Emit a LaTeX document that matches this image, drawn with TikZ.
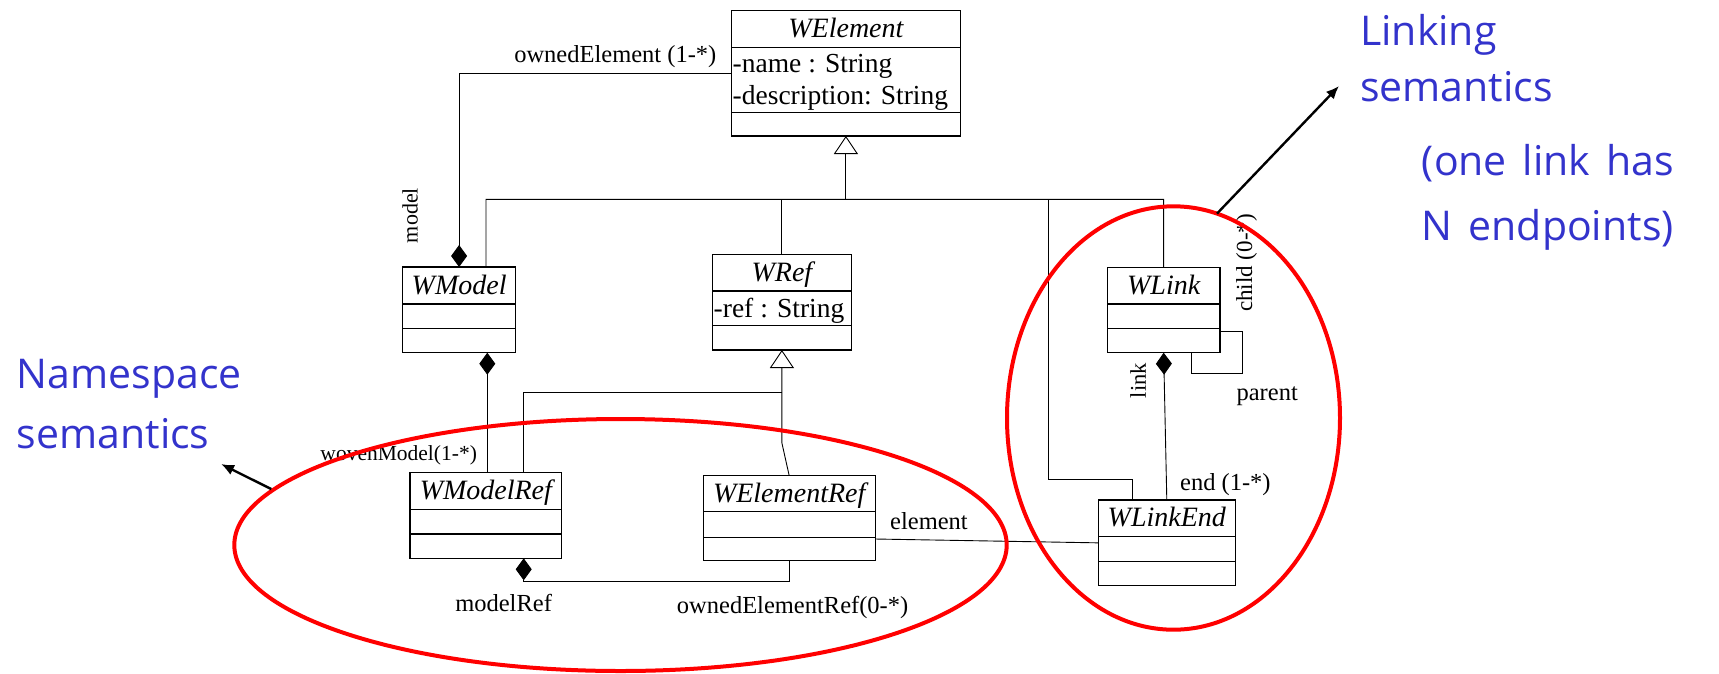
\documentclass[tikz,border=0pt]{standalone}
\usepackage{fontspec}
\setmainfont{Liberation Serif}
\newfontfamily\handfont[WordSpace=1.5]{Open Sans}
\usetikzlibrary{arrows.meta,shapes.geometric}
\definecolor{noteblue}{RGB}{51,51,204}

\tikzset{
  classbox/.style={draw, rectangle, line width=1.2pt, inner sep=0pt, outer sep=0pt},
  boxline/.style={line width=1.2pt},
  classtitle/.style={inner sep=0pt, font=\fontsize{28}{30}\selectfont\itshape},
  attr/.style={inner sep=0pt, anchor=base west, font=\fontsize{27.5}{30}\selectfont},
  role/.style={inner sep=0pt, anchor=base, font=\fontsize{24.5}{26}\selectfont},
  rolerot/.style={inner sep=0pt, anchor=center, rotate=90, font=\fontsize{23}{25}\selectfont},
  conn/.style={line width=0.9pt},
  compo/.style={conn, {Diamond[length=22pt,width=16pt]}-},
  generalize/.style={conn, -{Triangle[open,length=18pt,width=24pt]}},
  ring/.style={draw=red, line width=4pt, ellipse, inner sep=0pt, outer sep=0pt},
  note/.style={text=noteblue, inner sep=0pt, anchor=base west, font=\handfont\fontsize{41}{44}\selectfont},
  pointer/.style={line width=2.4pt, -{Latex[length=13pt,width=11pt]}},
}

% #1 name, #2 left, #3 top, #4 right, #5 bottom, #6 first divider, #7 second divider, #8 class name
\newcommand\umlclass[8]{%
  \node[classbox, anchor=north west, minimum width={#4-#2}, minimum height={#5-#3}] (#1) at (#2,#3) {};
  \draw[boxline] (#2,#6) -- (#4,#6) (#2,#7) -- (#4,#7);
  \node[classtitle, anchor=base] (#1-name) at ({(#2+#4)/2},{(#3+#6)/2+8.5}) {#8};
}

\begin{document}
\begin{tikzpicture}[x=1pt,y=-1pt]
\useasboundingbox (0,0) rectangle (1719,673);
\fill[white] (0,0) rectangle (1719,673);

% classes
\umlclass{WElement}{731.3}{10.7}{960.5}{136}{47.3}{112.7}{WElement}
\node[attr] (WElement-a1) at (732.5,72) {-name : String};
\node[attr] (WElement-a2) at (732.5,104) {-description: String};

\umlclass{WModel}{402.7}{267}{515.5}{352.7}{304}{328.5}{WModel}
\umlclass{WRef}{712.3}{254.5}{851.5}{350}{291}{325.8}{WRef}
\node[attr] (WRef-a1) at (713.5,317) {-ref : String};
\umlclass{WLink}{1107.3}{267.3}{1220}{352.7}{304}{328.3}{WLink}
\umlclass{WModelRef}{410}{472.7}{561.7}{558.3}{509.3}{534}{WModelRef}
\umlclass{WElementRef}{703.3}{475.7}{875.1}{560.7}{511.7}{537.3}{WElementRef}
\umlclass{WLinkEnd}{1098.3}{500}{1235.3}{585.7}{536.7}{561.7}{WLinkEnd}

% routing points
\coordinate (busL) at (486,199.3);
\coordinate (busR) at (1163.65,199.3);
\coordinate (busE) at (845.9,199.3);
\coordinate (busK) at (1048.3,199.3);
\coordinate (kneeK) at (1048.3,479.3);
\coordinate (refbus) at (781.9,392.7);
\coordinate (refbend) at (781.9,443);
\coordinate (ownknee) at (789.2,581.7);
\coordinate (wmdrop) at ([xshift=28.2pt]WModel.south);

% generalizations
\draw[conn] ([xshift=26.9pt]WModel.north) -- (busL) -- (busR) -- (WLink.north);
\draw[generalize] (busE) -- (WElement.south);
\draw[conn] (WRef.north) -- (WRef.north |- busL);
\draw[conn] (busK) -- (kneeK) -| ([xshift=-34.1pt]WLinkEnd.north);
\draw[conn] ([xshift=37.45pt]WModelRef.north) |- (refbus);
\draw[generalize] (WElementRef.north) -- (refbend) -- (refbus) -- (WRef.south);

% compositions and associations
\draw[compo] (WModel.north) |- (WElement.west);
\draw[compo] (wmdrop) -- (wmdrop |- WModelRef.north);
\draw[compo] ([xshift=37.85pt]WModelRef.south) |- (ownknee) -- (WElementRef.south);
\draw[compo] (WLink.south) -- (WLinkEnd.north);
\draw[conn] ([yshift=-20.8pt]WElementRef.east) -- (WLinkEnd.west);
\draw[conn] ([yshift=-21.7pt]WLink.east) -- ++(22.3,0) -- ++(0,41.6) -| ([xshift=28pt]WLink.south);

% role names
\node[role] (lblOwned) at (615.3,62) {ownedElement (1-*)};
\node[rolerot, font=\fontsize{22}{24}\selectfont] (lblModel) at (410,215.5) {model};
\node[rolerot] (lblChild) at (1246.7,263) {child (0-*)};
\node[rolerot, font=\fontsize{22.5}{24}\selectfont] (lblLink) at (1138,380.5) {link};
\node[role] (lblParent) at (1267.2,400) {parent};
\node[role] (lblEnd) at (1225.4,490) {end (1-*)};
\node[role] (lblElement) at (929,529.3) {element};
\node[role] (lblModelRef) at (503.6,611.7) {modelRef};
\node[role] (lblOwnedRef) at (792.6,613.3) {ownedElementRef(0-*)};
\node[role, font=\fontsize{21.5}{23}\selectfont] (lblWoven) at (398.7,460) {wovenModel(1-*)};

% notes
\node[note] (nsA) at (16.7,388.3) {Namespace};
\node[note] (nsB) at (16.7,448.3) {semantics};
\node[note] (lkA) at (1360,45) {Linking};
\node[note] (lkB) at (1360,101.7) {semantics};
\node[note] (lkC) at (1421.7,175) {(one link has};
\node[note] (lkD) at (1421.7,240) {N endpoints)};

% highlighted groups
\node[ring, minimum width=772.4pt, minimum height=252pt] (nsRing) at (620.5,545) {};
\node[ring, minimum width=333pt, minimum height=423.4pt] (lkRing) at (1173.5,418) {};
\coordinate (nsTip) at (221,464);
\coordinate (lkTip) at (1339,86);
\draw[pointer, shorten <=2pt] (nsRing.171.8) -- (nsTip);
\draw[pointer] (lkRing.78.1) -- (lkTip);
\end{tikzpicture}
\end{document}
